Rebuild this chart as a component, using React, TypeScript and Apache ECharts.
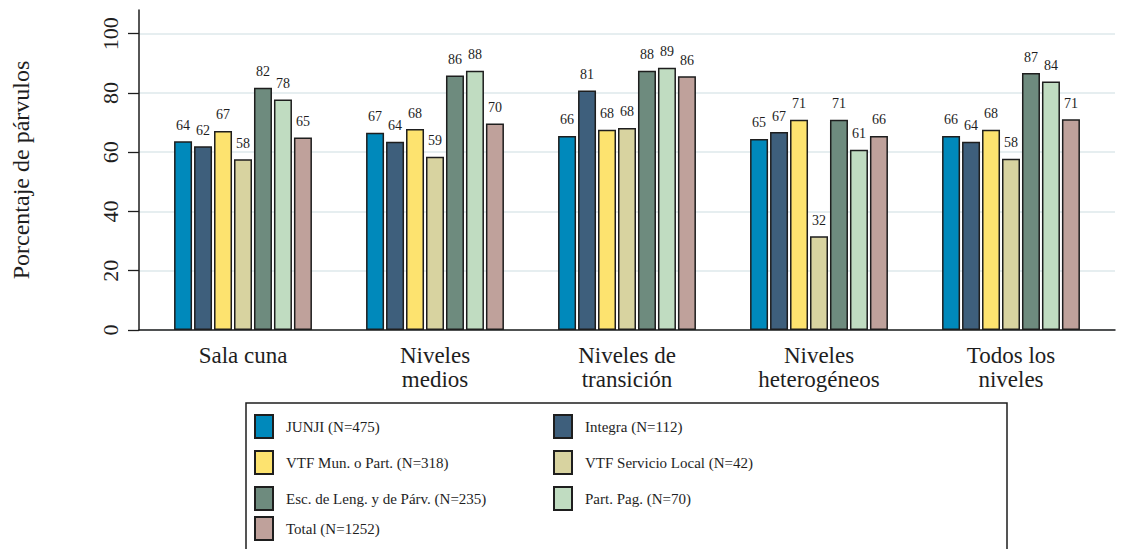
import React, { useEffect, useRef } from "react";
import * as echarts from "echarts";

const categories = [
  "Sala cuna",
  "Niveles\nmedios",
  "Niveles de\ntransición",
  "Niveles\nheterogéneos",
  "Todos los\nniveles",
];

const seriesNames = [
  "JUNJI (N=475)",
  "Integra (N=112)",
  "VTF Mun. o Part. (N=318)",
  "VTF Servicio Local (N=42)",
  "Esc. de Leng. y de Párv. (N=235)",
  "Part. Pag. (N=70)",
  "Total (N=1252)",
];

const junji = [63.7, 66.6, 65.5, 64.5, 65.5];
const integra = [62.0, 63.5, 80.8, 66.8, 63.5];
const vtfMun = [67.2, 67.8, 67.6, 71.0, 67.6];
const vtfLocal = [57.6, 58.5, 68.2, 31.6, 57.8];
const escLeng = [81.8, 85.9, 87.5, 71.0, 86.7];
const partPag = [77.8, 87.5, 88.5, 60.8, 83.9];
const total = [65.0, 69.7, 85.6, 65.5, 71.1];

const seriesValues = [junji, integra, vtfMun, vtfLocal, escLeng, partPag, total];

const colors = ["#0089bb", "#3e5f7c", "#fde36f", "#d8d3a0", "#6e8b7e", "#c0dcc1", "#bfa19b"];

const yTicks = [0, 20, 40, 60, 80, 100];

const leftColumn = [seriesNames[0], seriesNames[2], seriesNames[4]];
const rightColumn = [seriesNames[1], seriesNames[3], seriesNames[5]];
const lastRow = [seriesNames[6]];

const FONT = "'Liberation Serif', 'Times New Roman', serif";
const DARK = "#1e1e1e";

export default function App() {
  const ref = useRef<HTMLDivElement>(null);

  useEffect(() => {
    if (!ref.current) return;
    const chart = echarts.init(ref.current, undefined, { renderer: "svg" });

    const legendCommon = {
      orient: "vertical" as const,
      padding: 0,
      itemWidth: 18,
      itemHeight: 23,
      itemGap: 11,
      icon: "rect",
      textStyle: { fontFamily: FONT, fontSize: 15, color: DARK, padding: [0, 0, 0, 8] },
      selectedMode: false,
    };

    chart.setOption({
      animation: false,
      backgroundColor: "#ffffff",
      grid: [
        { left: 139, right: 6, top: 10, bottom: 219 },
        { left: 147, right: 14, top: 10, bottom: 219 },
      ],
      xAxis: [
        {
          gridIndex: 0,
          type: "value",
          min: 0,
          max: 1,
          axisLine: { show: true, lineStyle: { color: DARK, width: 1.5 } },
          axisTick: { show: false },
          axisLabel: { show: false },
          splitLine: { show: false },
        },
        {
          gridIndex: 1,
          type: "category",
          data: categories,
          axisLine: { show: false },
          axisTick: { show: false },
          axisLabel: {
            fontFamily: FONT,
            fontSize: 23,
            lineHeight: 24,
            color: DARK,
            margin: 13,
            interval: 0,
          },
        },
      ],
      yAxis: [
        {
          gridIndex: 0,
          type: "value",
          min: 0,
          max: 108,
          interval: 20,
          name: "Porcentaje de párvulos",
          nameLocation: "middle",
          nameGap: 106,
          nameRotate: 90,
          nameTextStyle: { fontFamily: FONT, fontSize: 24, color: DARK },
          axisLine: { show: true, lineStyle: { color: DARK, width: 1.5 } },
          axisTick: {
            show: true,
            length: 11,
            inside: false,
            lineStyle: { color: DARK, width: 1.3 },
            customValues: yTicks,
          },
          axisLabel: {
            fontFamily: FONT,
            fontSize: 22,
            color: DARK,
            rotate: 90,
            margin: 18,
            customValues: yTicks,
          },
          splitLine: { show: true, lineStyle: { color: "#e6eef0", width: 2 } },
        },
        {
          gridIndex: 1,
          type: "value",
          min: 0,
          max: 108,
          show: false,
          splitLine: { show: false },
        },
      ],
      legend: [
        { ...legendCommon, left: 254, top: 414, data: leftColumn },
        { ...legendCommon, left: 553, top: 414, data: rightColumn },
        { ...legendCommon, left: 254, top: 516, data: lastRow },
      ],
      graphic: [
        {
          type: "rect",
          z: 0,
          silent: true,
          shape: { x: 246, y: 403, width: 761, height: 200 },
          style: { fill: "none", stroke: DARK, lineWidth: 1.5 },
        },
      ],
      series: seriesNames.map((name, i) => ({
        name,
        type: "bar",
        xAxisIndex: 1,
        yAxisIndex: 1,
        data: seriesValues[i],
        barWidth: 18,
        barGap: "11%",
        itemStyle: { color: colors[i], borderColor: DARK, borderWidth: 1.5 },
        label: {
          show: true,
          position: "top",
          distance: 9,
          fontFamily: FONT,
          fontSize: 14,
          color: DARK,
          formatter: (p: any) => String(Math.round(p.value)),
        },
      })),
    });

    return () => chart.dispose();
  }, []);

  return (
    <div
      ref={ref}
      style={{ position: "absolute", left: 0, top: 0, width: 1121, height: 549 }}
    />
  );
}
